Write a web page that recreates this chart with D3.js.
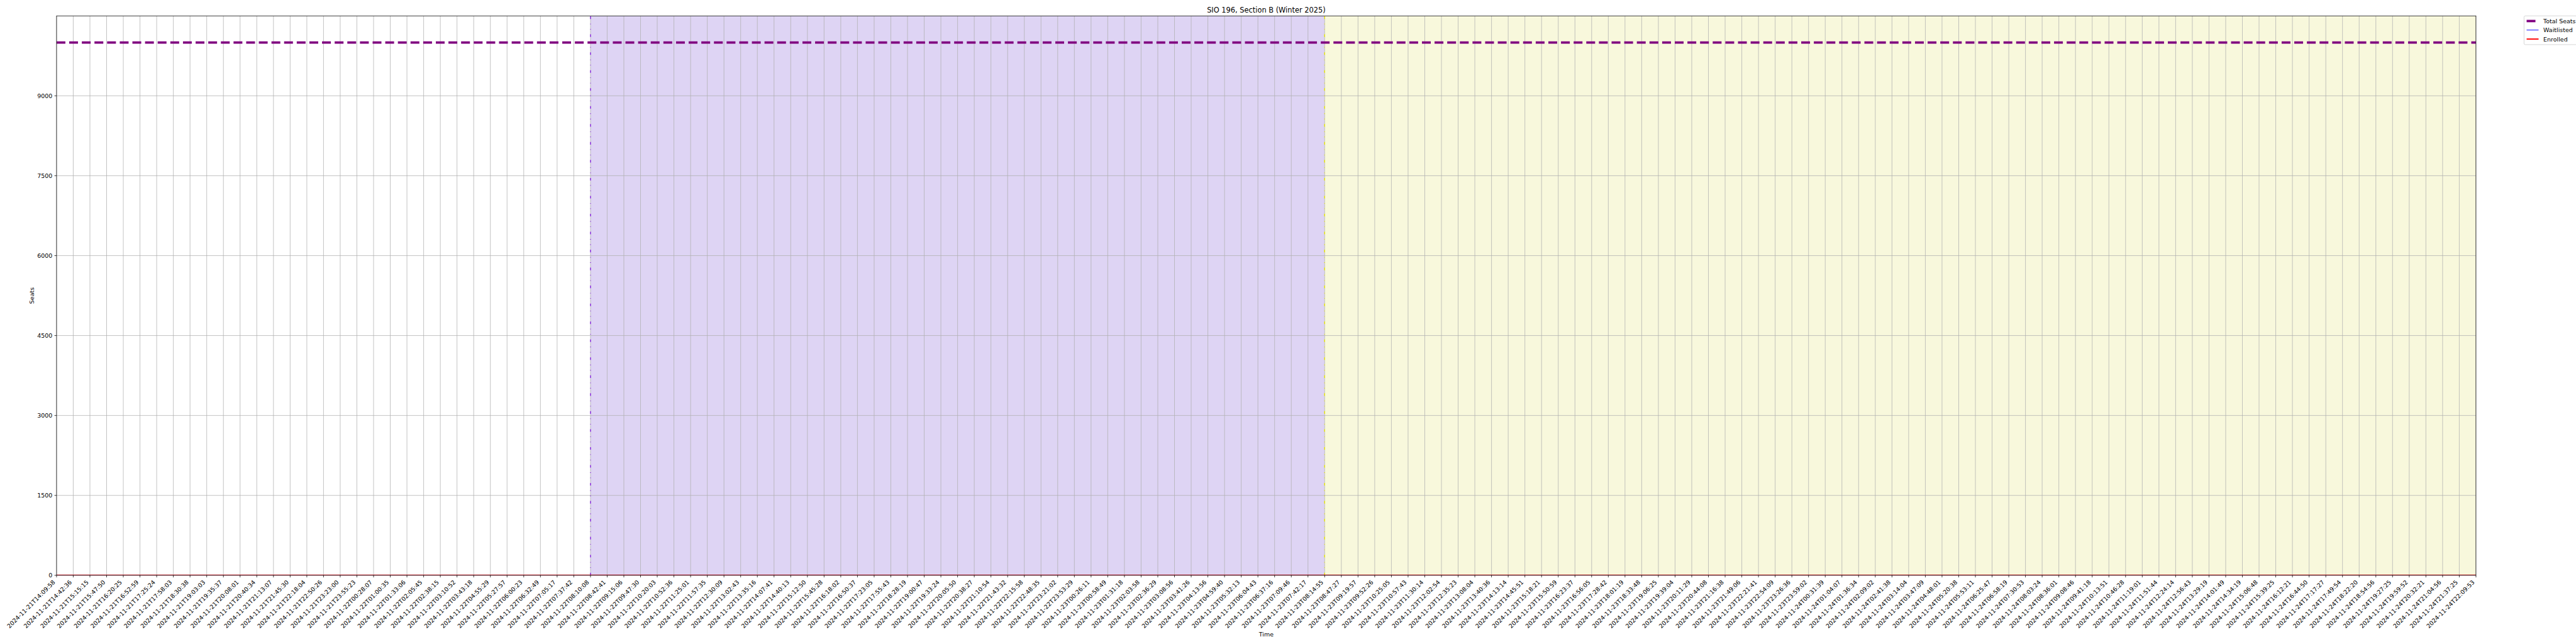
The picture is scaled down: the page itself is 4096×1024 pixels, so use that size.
<!DOCTYPE html>
<html><head><meta charset="utf-8">
<script src="https://cdn.jsdelivr.net/npm/d3@7"></script>
<style>html,body{margin:0;padding:0;background:#fff;overflow:hidden}</style>
</head><body>
<svg id="chart" width="4096" height="1024" viewBox="0 0 6000 1500"></svg>
<script>
// ---------------- DATA ----------------
const timeLabels = [
"2024-11-21T14:09:58","2024-11-21T14:42:36","2024-11-21T15:15:15","2024-11-21T15:47:50","2024-11-21T16:20:25",
"2024-11-21T16:52:59","2024-11-21T17:25:24","2024-11-21T17:58:03","2024-11-21T18:30:38","2024-11-21T19:03:03",
"2024-11-21T19:35:37","2024-11-21T20:08:01","2024-11-21T20:40:34","2024-11-21T21:13:07","2024-11-21T21:45:30",
"2024-11-21T22:18:04","2024-11-21T22:50:26","2024-11-21T23:23:00","2024-11-21T23:55:23","2024-11-22T00:28:07",
"2024-11-22T01:00:35","2024-11-22T01:33:06","2024-11-22T02:05:45","2024-11-22T02:38:15","2024-11-22T03:10:52",
"2024-11-22T03:43:18","2024-11-22T04:55:29","2024-11-22T05:27:57","2024-11-22T06:00:23","2024-11-22T06:32:49",
"2024-11-22T07:05:17","2024-11-22T07:37:42","2024-11-22T08:10:08","2024-11-22T08:42:41","2024-11-22T09:15:06",
"2024-11-22T09:47:30","2024-11-22T10:20:03","2024-11-22T10:52:36","2024-11-22T11:25:01","2024-11-22T11:57:35",
"2024-11-22T12:30:09","2024-11-22T13:02:43","2024-11-22T13:35:16","2024-11-22T14:07:41","2024-11-22T14:40:13",
"2024-11-22T15:12:50","2024-11-22T15:45:28","2024-11-22T16:18:02","2024-11-22T16:50:37","2024-11-22T17:23:05",
"2024-11-22T17:55:43","2024-11-22T18:28:19","2024-11-22T19:00:47","2024-11-22T19:33:24","2024-11-22T20:05:50",
"2024-11-22T20:38:27","2024-11-22T21:10:54","2024-11-22T21:43:32","2024-11-22T22:15:58","2024-11-22T22:48:35",
"2024-11-22T23:21:02","2024-11-22T23:53:29","2024-11-23T00:26:11","2024-11-23T00:58:49","2024-11-23T01:31:18",
"2024-11-23T02:03:58","2024-11-23T02:36:29","2024-11-23T03:08:56","2024-11-23T03:41:26","2024-11-23T04:13:56",
"2024-11-23T04:59:40","2024-11-23T05:32:13","2024-11-23T06:04:43","2024-11-23T06:37:16","2024-11-23T07:09:46",
"2024-11-23T07:42:17","2024-11-23T08:14:55","2024-11-23T08:47:27","2024-11-23T09:19:57","2024-11-23T09:52:26",
"2024-11-23T10:25:05","2024-11-23T10:57:43","2024-11-23T11:30:14","2024-11-23T12:02:54","2024-11-23T12:35:23",
"2024-11-23T13:08:04","2024-11-23T13:40:36","2024-11-23T14:13:14","2024-11-23T14:45:51","2024-11-23T15:18:21",
"2024-11-23T15:50:59","2024-11-23T16:23:37","2024-11-23T16:56:05","2024-11-23T17:28:42","2024-11-23T18:01:19",
"2024-11-23T18:33:48","2024-11-23T19:06:25","2024-11-23T19:39:04","2024-11-23T20:11:29","2024-11-23T20:44:08",
"2024-11-23T21:16:38","2024-11-23T21:49:06","2024-11-23T22:21:41","2024-11-23T22:54:09","2024-11-23T23:26:36",
"2024-11-23T23:59:02","2024-11-24T00:31:39","2024-11-24T01:04:07","2024-11-24T01:36:34","2024-11-24T02:09:02",
"2024-11-24T02:41:38","2024-11-24T03:14:04","2024-11-24T03:47:09","2024-11-24T04:48:01","2024-11-24T05:20:38",
"2024-11-24T05:53:11","2024-11-24T06:25:47","2024-11-24T06:58:19","2024-11-24T07:30:53","2024-11-24T08:03:24",
"2024-11-24T08:36:01","2024-11-24T09:08:46","2024-11-24T09:41:18","2024-11-24T10:13:51","2024-11-24T10:46:28",
"2024-11-24T11:19:01","2024-11-24T11:51:44","2024-11-24T12:24:14","2024-11-24T12:56:43","2024-11-24T13:29:19",
"2024-11-24T14:01:49","2024-11-24T14:34:19","2024-11-24T15:06:48","2024-11-24T15:39:25","2024-11-24T16:12:21",
"2024-11-24T16:44:50","2024-11-24T17:17:27","2024-11-24T17:49:54","2024-11-24T18:22:20","2024-11-24T18:54:56",
"2024-11-24T19:27:25","2024-11-24T19:59:52","2024-11-24T20:32:21","2024-11-24T21:04:56","2024-11-24T21:37:25",
"2024-11-24T22:09:53"
];

const totalSeats = [
10000,10000,10000,10000,10000,10000,10000,10000,10000,10000,
10000,10000,10000,10000,10000,10000,10000,10000,10000,10000,
10000,10000,10000,10000,10000,10000,10000,10000,10000,10000,
10000,10000,10000,10000,10000,10000,10000,10000,10000,10000,
10000,10000,10000,10000,10000,10000,10000,10000,10000,10000,
10000,10000,10000,10000,10000,10000,10000,10000,10000,10000,
10000,10000,10000,10000,10000,10000,10000,10000,10000,10000,
10000,10000,10000,10000,10000,10000,10000,10000,10000,10000,
10000,10000,10000,10000,10000,10000,10000,10000,10000,10000,
10000,10000,10000,10000,10000,10000,10000,10000,10000,10000,
10000,10000,10000,10000,10000,10000,10000,10000,10000,10000,
10000,10000,10000,10000,10000,10000,10000,10000,10000,10000,
10000,10000,10000,10000,10000,10000,10000,10000,10000,10000,
10000,10000,10000,10000,10000,10000,10000,10000,10000,10000,
10000,10000,10000,10000,10000,10000
];

const waitlisted = [
0,0,0,0,0,0,0,0,0,0, 0,0,0,0,0,0,0,0,0,0, 0,0,0,0,0,0,0,0,0,0,
0,0,0,0,0,0,0,0,0,0, 0,0,0,0,0,0,0,0,0,0, 0,0,0,0,0,0,0,0,0,0,
0,0,0,0,0,0,0,0,0,0, 0,0,0,0,0,0,0,0,0,0, 0,0,0,0,0,0,0,0,0,0,
0,0,0,0,0,0,0,0,0,0, 0,0,0,0,0,0,0,0,0,0, 0,0,0,0,0,0,0,0,0,0,
0,0,0,0,0,0,0,0,0,0, 0,0,0,0,0,0,0,0,0,0, 0,0,0,0,0,0
];

const enrolled = [
0,0,0,0,0,0,0,0,0,0, 0,0,0,0,0,0,0,0,0,0, 0,0,0,0,0,0,0,0,0,0,
0,0,0,0,0,0,0,0,0,0, 0,0,0,0,0,0,0,0,0,0, 0,0,0,0,0,0,0,0,0,0,
0,0,0,0,0,0,0,0,0,0, 0,0,0,0,0,0,0,0,0,0, 0,0,0,0,0,0,0,0,0,0,
0,0,0,0,0,0,0,0,0,0, 0,0,0,0,0,0,0,0,0,0, 0,0,0,0,0,0,0,0,0,0,
0,0,0,0,0,0,0,0,0,0, 0,0,0,0,0,0,0,0,0,0, 0,0,0,0,0,0
];

const periodStarts = ["2024-11-22T08:10:08", "2024-11-23T08:14:55"];
const yTicks = [0, 1500, 3000, 4500, 6000, 7500, 9000];
const yDomain = [0, 10500];
const seriesNames = ["Total Seats", "Waitlisted", "Enrolled"];
const titleText = "SIO 196, Section B (Winter 2025)";

// ---------------- LAYOUT / STYLE ----------------
const L = 131.7, R = 5767, T = 37, B = 1340;
const FONT = "DejaVu Sans";
const fs = 13.9;
const lw = 1.389; // px per pt

const svg = d3.select("#chart");
svg.append("rect").attr("width", 6000).attr("height", 1500).attr("fill", "#fff");

const x = d3.scalePoint().domain(timeLabels).range([L, R]).padding(0);
const y = d3.scaleLinear().domain(yDomain).range([B, T]);

svg.append("defs").append("clipPath").attr("id", "clip")
  .append("rect").attr("x", L).attr("y", T).attr("width", R - L).attr("height", B - T);

const plot = svg.append("g").attr("clip-path", "url(#clip)");

// shaded periods
const spanFills = ["rgba(147,112,219,0.3)", "#f8f8dc"];
periodStarts.forEach((s, i) => {
  const e = periodStarts[i + 1] || timeLabels[timeLabels.length - 1];
  plot.append("rect")
    .attr("x", x(s)).attr("y", T)
    .attr("width", x(e) - x(s)).attr("height", B - T)
    .attr("fill", spanFills[i]);
});

// grid
plot.append("g").selectAll("line").data(timeLabels).join("line")
  .attr("x1", d => x(d)).attr("x2", d => x(d))
  .attr("y1", T).attr("y2", B)
  .attr("stroke", "#b0b0b0").attr("stroke-width", 0.8 * lw);
plot.append("g").selectAll("line").data(yTicks).join("line")
  .attr("x1", L).attr("x2", R)
  .attr("y1", d => y(d)).attr("y2", d => y(d))
  .attr("stroke", "#b0b0b0").attr("stroke-width", 0.8 * lw);

// period start markers
const markerStyles = [
  {color: "#8a2be2", dash: "6 11.2 1.2 11.2 1.2 11"},
  {color: "#e8e800", dash: "6 11.2 1.2 11.2 1.2 11"}
];
periodStarts.forEach((s, i) => {
  plot.append("line")
    .attr("x1", x(s)).attr("x2", x(s))
    .attr("y1", B).attr("y2", T)
    .attr("stroke", markerStyles[i].color)
    .attr("stroke-width", 1.5 * lw)
    .attr("stroke-dasharray", markerStyles[i].dash);
});

// series
const lineGen = d3.line().x((d, i) => x(timeLabels[i])).y(d => y(d));
const seriesStyles = [
  {color: "#800080", width: 4 * lw, dash: (3.7 * 4 * lw) + " " + (1.6 * 4 * lw)},
  {color: "#0000ff", width: 1 * lw, dash: null},
  {color: "#ff0000", width: 2 * lw, dash: null}
];
[totalSeats, waitlisted, enrolled].forEach((arr, i) => {
  const st = seriesStyles[i];
  const p = plot.append("path").datum(arr)
    .attr("d", lineGen)
    .attr("fill", "none")
    .attr("stroke", st.color)
    .attr("stroke-width", st.width);
  if (st.dash) p.attr("stroke-dasharray", st.dash);
});

// axes frame
svg.append("rect").attr("x", L).attr("y", T).attr("width", R - L).attr("height", B - T)
  .attr("fill", "none").attr("stroke", "#000").attr("stroke-width", 0.8 * lw);

const tickLen = 3.5 * lw, pad = 3.5 * lw;

// y ticks
const yAxis = svg.append("g");
yAxis.selectAll("line").data(yTicks).join("line")
  .attr("x1", L - tickLen).attr("x2", L)
  .attr("y1", d => y(d)).attr("y2", d => y(d))
  .attr("stroke", "#000").attr("stroke-width", 0.8 * lw);
yAxis.selectAll("text").data(yTicks).join("text")
  .attr("x", L - tickLen - pad).attr("y", d => y(d) + 5)
  .attr("text-anchor", "end")
  .attr("font-family", FONT).attr("font-size", fs).attr("fill", "#000")
  .text(d => d);

// x ticks
const xAxis = svg.append("g");
xAxis.selectAll("line").data(timeLabels).join("line")
  .attr("x1", d => x(d)).attr("x2", d => x(d))
  .attr("y1", B).attr("y2", B + tickLen)
  .attr("stroke", "#000").attr("stroke-width", 0.8 * lw);
xAxis.selectAll("text").data(timeLabels).join("text")
  .attr("transform", d => `translate(${x(d) - 2.3},${B + tickLen + pad + 7.5}) rotate(-45)`)
  .attr("text-anchor", "end")
  .attr("font-family", FONT).attr("font-size", fs).attr("fill", "#000")
  .text(d => d);

// labels & title
svg.append("text").attr("x", (L + R) / 2).attr("y", 29.3)
  .attr("text-anchor", "middle").attr("font-family", FONT).attr("font-size", 16.7)
  .text(titleText);
svg.append("text").attr("x", (L + R) / 2).attr("y", 1482)
  .attr("text-anchor", "middle").attr("font-family", FONT).attr("font-size", fs)
  .text("Time");
svg.append("text").attr("transform", `translate(79,${(T + B) / 2}) rotate(-90)`)
  .attr("text-anchor", "middle").attr("font-family", FONT).attr("font-size", fs)
  .text("Seats");

// legend
const lg = svg.append("g");
const lx = 5879, ly = 37;
lg.append("rect").attr("x", lx).attr("y", ly).attr("width", 140).attr("height", 67)
  .attr("rx", 2.8).attr("ry", 2.8)
  .attr("fill", "#fff").attr("fill-opacity", 0.8)
  .attr("stroke", "#cccccc").attr("stroke-opacity", 0.8).attr("stroke-width", 1.4);
const rowY = [49, 70, 91];
seriesNames.forEach((name, i) => {
  const st = seriesStyles[i];
  const ln = lg.append("line")
    .attr("x1", 5885).attr("x2", 5885 + 2 * fs)
    .attr("y1", rowY[i]).attr("y2", rowY[i])
    .attr("stroke", st.color).attr("stroke-width", st.width);
  if (st.dash) ln.attr("stroke-dasharray", st.dash);
  lg.append("text").attr("x", 5924).attr("y", rowY[i] + 5)
    .attr("font-family", FONT).attr("font-size", fs).attr("fill", "#000")
    .text(name);
});
</script>
</body></html>
